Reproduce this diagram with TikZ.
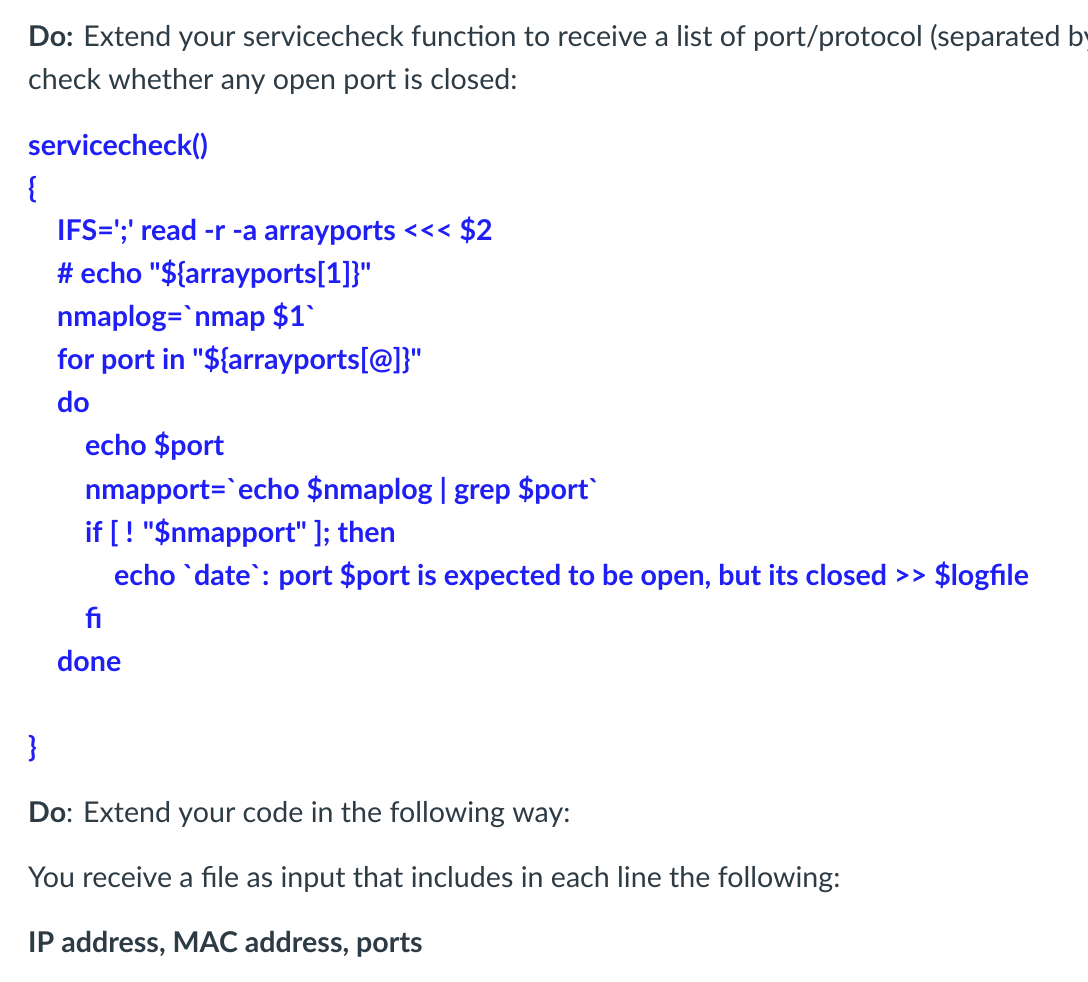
\documentclass[tikz,border=0pt]{standalone}
\usepackage{fontspec}
\setmainfont{Lato}[Ligatures=TeXOff]
\definecolor{txt}{HTML}{2D3B45}
\definecolor{code}{HTML}{1F1FF5}
\tikzset{
  t/.style={anchor=base west,inner sep=0pt,text=txt,font=\fontsize{28.6}{32}\selectfont},
  c/.style={t,text=code,font=\fontsize{28.6}{32}\selectfont\bfseries}
}
\newcommand{\bq}{\symbol{96}}
\begin{document}
\begin{tikzpicture}[x=1pt,y=-1pt]
\fill[white] (0,0) rectangle (1088,982);
\useasboundingbox (0,0) rectangle (1088,982);
\clip (0,0) rectangle (1088,982);
\node[t] (l1) at (28,47) {\textbf{Do:} Extend your servicecheck function to receive a list of port/protocol (separated by};
\node[t] (l2) at (28,90) {check whether any open port is closed:};
\node[c] (c1) at (28,155) {servicecheck()};
\node[c] (c2) at (28,198) {\{};
\node[c] (c3) at (57,240) {IFS=';' read -r -a arrayports <<< \$2};
\node[c] (c4) at (57,283) {\# echo "\$\{arrayports[1]\}"};
\node[c] (c5) at (57,326) {nmaplog=\bq nmap \$1\bq};
\node[c] (c6) at (57,369) {for port in "\$\{arrayports[@]\}"};
\node[c] (c7) at (57,412) {do};
\node[c] (c8) at (85,455) {echo \$port};
\node[c] (c9) at (85,499) {nmapport=\bq echo \$nmaplog | grep \$port\bq};
\node[c] (c10) at (85,542) {if [ ! "\$nmapport" ]; then};
\node[c] (c11) at (114,585) {echo \bq date\bq: port \$port is expected to be open, but its closed >> \$logfile};
\node[c] (c12) at (85,628) {fi};
\node[c] (c13) at (57,671) {done};
\node[c] (c14) at (28,757) {\}};
\node[t] (l3) at (28,822) {\textbf{Do}: Extend your code in the following way:};
\node[t] (l4) at (28,887) {You receive a file as input that includes in each line the following:};
\node[t] (l5) at (28,952) {\textbf{IP address, MAC address, ports}};
\end{tikzpicture}
\end{document}
